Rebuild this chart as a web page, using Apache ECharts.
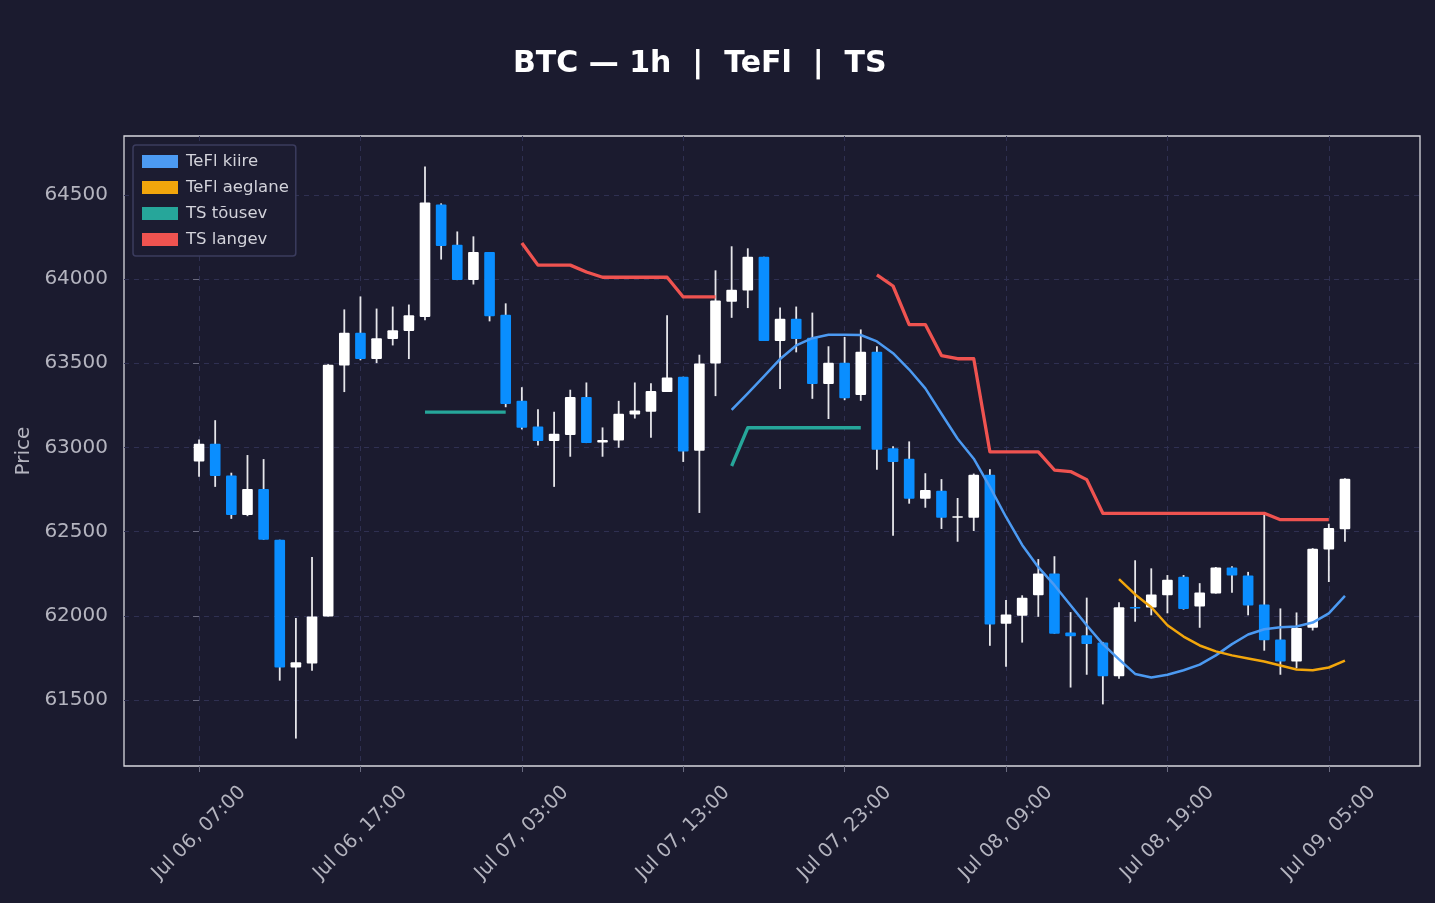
<!DOCTYPE html>
<html>
<head>
<meta charset="utf-8">
<title>BTC 1h TeFl TS</title>
<script src="https://cdn.jsdelivr.net/npm/echarts@6/dist/echarts.min.js"></script>
<style>
  html, body { margin: 0; padding: 0; background: #1b1b2f; }
  #chart { width: 1435px; height: 903px; }
</style>
</head>
<body>
<div id="chart"></div>
<script>
// hourly candles, index 0 = Jul 06 07:00
const opens = [62917, 63022, 62833, 62599, 62754, 62452, 61693, 61717, 61996, 63487,
  63682, 63525, 63644, 63692, 63775, 64443, 64204, 63994, 64161, 63789,
  63277, 63124, 63038, 63074, 63300, 63029, 63041, 63196, 63212, 63329,
  63420, 62981, 63498, 63866, 63932, 64133, 63632, 63765, 63651, 63377,
  63503, 63312, 63568, 62995, 62933, 62695, 62743, 62588, 62583, 62838,
  61953, 62001, 62122, 62251, 61901, 61884, 61841, 61641, 62052, 62049,
  62122, 62232, 62056, 62132, 62287, 62239, 62068, 61860, 61729, 61929,
  62394, 62514];
const closes = [63022, 62831, 62599, 62754, 62452, 61693, 61724, 61996, 63491, 63682,
  63525, 63649, 63696, 63785, 64455, 64197, 63994, 64161, 63780, 63258,
  63117, 63038, 63081, 63300, 63026, 63045, 63200, 63220, 63336, 63415,
  62976, 63498, 63873, 63937, 64133, 63632, 63765, 63644, 63377, 63503,
  63293, 63568, 62986, 62914, 62695, 62747, 62583, 62592, 62838, 61948,
  62008, 62108, 62251, 61894, 61879, 61832, 61641, 62051, 62045, 62127,
  62215, 62041, 62139, 62287, 62239, 62061, 61855, 61729, 61927, 62399,
  62521, 62814];
const highs = [63048, 63162, 62850, 62955, 62931, 62452, 61987, 62349, 63495, 63820,
  63897, 63825, 63837, 63849, 64669, 64450, 64283, 64254, 64161, 63856,
  63358, 63227, 63212, 63343, 63386, 63119, 63277, 63386, 63382, 63785,
  63420, 63551, 64052, 64195, 64183, 64133, 63832, 63837, 63801, 63601,
  63656, 63701, 63601, 63007, 63036, 62847, 62812, 62700, 62845, 62871,
  62094, 62122, 62337, 62354, 62022, 62108, 61845, 62080, 62330, 62282,
  62242, 62242, 62194, 62290, 62294, 62261, 62609, 62044, 62020, 62402,
  62547, 62817];
const lows = [62826, 62766, 62576, 62592, 62452, 61615, 61271, 61674, 61996, 63329,
  63518, 63501, 63606, 63525, 63756, 64116, 63994, 63968, 63749, 63239,
  63107, 63012, 62766, 62945, 63026, 62945, 62998, 63172, 63057, 63329,
  62914, 62611, 63305, 63770, 63828, 63632, 63348, 63565, 63289, 63169,
  63281, 63277, 62867, 62475, 62666, 62642, 62516, 62440, 62504, 61822,
  61698, 61841, 61994, 61894, 61574, 61650, 61474, 61626, 61965, 62003,
  62015, 62037, 61929, 62132, 62137, 62003, 61793, 61650, 61689, 61913,
  62201, 62440];

const _ = null;
// TeFl kiire / aeglane (start later), TS tõusev / langev (gapped)
const teflFast = [_, _, _, _, _, _, _, _, _, _,
  _, _, _, _, _, _, _, _, _, _,
  _, _, _, _, _, _, _, _, _, _,
  _, _, _, 63224, 63322, 63422, 63525, 63606, 63649, 63670,
  63670, 63668, 63630, 63560, 63463, 63351, 63200, 63052, 62933, 62766,
  62587, 62421, 62289, 62182, 62063, 61944, 61832, 61741, 61655, 61634,
  61650, 61677, 61710, 61765, 61832, 61889, 61920, 61932, 61937, 61960,
  62015, 62118];
const teflSlow = [_, _, _, _, _, _, _, _, _, _,
  _, _, _, _, _, _, _, _, _, _,
  _, _, _, _, _, _, _, _, _, _,
  _, _, _, _, _, _, _, _, _, _,
  _, _, _, _, _, _, _, _, _, _,
  _, _, _, _, _, _, _, 62218, 62127, 62051,
  61944, 61877, 61824, 61789, 61765, 61746, 61729, 61705, 61681, 61677,
  61693, 61734];
const tsUp = [_, _, _, _, _, _, _, _, _, _,
  _, _, _, _, 63210, 63210, 63210, 63210, 63210, 63210,
  _, _, _, _, _, _, _, _, _, _,
  _, _, _, 62890, 63117, 63117, 63117, 63117, 63117, 63117,
  63117, 63117, _, _, _, _, _, _, _, _,
  _, _, _, _, _, _, _, _, _, _,
  _, _, _, _, _, _, _, _, _, _,
  _, _];
const tsDown = [_, _, _, _, _, _, _, _, _, _,
  _, _, _, _, _, _, _, _, _, _,
  64214, 64083, 64083, 64083, 64042, 64011, 64011, 64011, 64011, 64011,
  63894, 63894, 63894, _, _, _, _, _, _, _,
  _, _, 64025, 63959, 63730, 63730, 63546, 63527, 63527, 62974,
  62974, 62974, 62974, 62866, 62857, 62809, 62609, 62609, 62609, 62609,
  62609, 62609, 62609, 62609, 62609, 62609, 62609, 62571, 62571, 62571,
  62571, _];

const tickHours = [0, 10, 20, 30, 40, 50, 60, 70];
const tickLabels = ['Jul 06, 07:00', 'Jul 06, 17:00', 'Jul 07, 03:00', 'Jul 07, 13:00',
  'Jul 07, 23:00', 'Jul 08, 09:00', 'Jul 08, 19:00', 'Jul 09, 05:00'];
const priceTicks = [61500, 62000, 62500, 63000, 63500, 64000, 64500];

const chartDom = document.getElementById('chart');
const chart = echarts.init(chartDom);

const candleData = opens.map((o, i) => [i, o, closes[i], lows[i], highs[i]]);
const asPoints = arr => arr.map((v, i) => [i, v]);

const UP = '#ffffff';
const DOWN = '#0a8eff';
const WICK = '#e6e6ea';
const GRID = '#2f3052';
const TEXT = '#b4b4bf';
const TICK = '#6a6b80';

function renderCandle(params, api) {
    const x = api.value(0);
    const o = api.value(1), c = api.value(2), l = api.value(3), h = api.value(4);
    const hi = api.coord([x, h]);
    const lo = api.coord([x, l]);
    const po = api.coord([x, o]);
    const pc = api.coord([x, c]);
    const w = api.size([1, 0])[0] * 0.66;
    const top = Math.min(po[1], pc[1]);
    const height = Math.max(Math.abs(po[1] - pc[1]), 1.5);
    return {
        type: 'group',
        children: [
            {
                type: 'line',
                shape: { x1: hi[0], y1: hi[1], x2: lo[0], y2: lo[1] },
                style: { stroke: WICK, lineWidth: 1.8 }
            },
            {
                type: 'rect',
                shape: { x: po[0] - w / 2, y: top, width: w, height: height, r: 1 },
                style: { fill: c >= o ? UP : DOWN }
            }
        ]
    };
}

function lineSeries(name, arr, color, width) {
    return {
        name: name,
        type: 'line',
        data: asPoints(arr),
        showSymbol: false,
        symbol: 'none',
        connectNulls: false,
        z: 5,
        itemStyle: { color: color },
        lineStyle: { color: color, width: width, join: 'round' }
    };
}

const option = {
    backgroundColor: '#1b1b2f',
    animation: false,
    textStyle: { fontFamily: 'DejaVu Sans' },
    title: {
        text: 'BTC \u2014 1h  |  TeFl  |  TS',
        left: 508,
        top: 44,
        textStyle: { color: '#ffffff', fontSize: 30, fontWeight: 'bold', fontFamily: 'DejaVu Sans' }
    },
    legend: {
        data: ['TeFl kiire', 'TeFl aeglane', 'TS t\u00f5usev', 'TS langev'],
        orient: 'vertical',
        left: 133,
        top: 145,
        icon: 'rect',
        itemWidth: 36,
        itemHeight: 13,
        itemGap: 9,
        padding: [8, 7, 8, 9],
        backgroundColor: '#1c1c31',
        borderColor: '#3b3c5e',
        borderWidth: 1.5,
        borderRadius: 3,
        textStyle: { color: '#d2d2da', fontSize: 16.5, lineHeight: 17, fontFamily: 'DejaVu Sans', padding: [0, 0, 0, 3] }
    },
    grid: {
        left: 124,
        right: 15,
        top: 136,
        bottom: 137,
        show: true,
        borderColor: '#d8d8de',
        borderWidth: 1.3,
        backgroundColor: 'transparent'
    },
    xAxis: {
        type: 'value',
        min: -4.65,
        max: 75.65,
        axisLine: { show: false },
        axisTick: { show: true, customValues: tickHours, length: 6, lineStyle: { color: TICK } },
        splitLine: { show: true, lineStyle: { color: GRID, type: [5, 5], width: 1 } },
        axisLabel: {
            customValues: tickHours,
            rotate: 45,
            align: 'center',
            verticalAlign: 'middle',
            margin: 67,
            color: TEXT,
            fontSize: 19.5,
            fontFamily: 'DejaVu Sans',
            formatter: v => tickLabels[tickHours.indexOf(Math.round(v))] || ''
        }
    },
    yAxis: {
        type: 'value',
        min: 61108,
        max: 64850,
        name: 'Price',
        nameLocation: 'middle',
        nameGap: 87,
        nameTextStyle: { color: TEXT, fontSize: 20, fontFamily: 'DejaVu Sans' },
        axisLine: { show: false },
        axisTick: { show: true, customValues: priceTicks, length: 6, lineStyle: { color: TICK } },
        splitLine: { show: true, lineStyle: { color: GRID, type: [5, 5], width: 1 } },
        axisLabel: {
            customValues: priceTicks,
            color: TEXT,
            fontSize: 20,
            margin: 16,
            fontFamily: 'DejaVu Sans',
            formatter: v => String(v)
        }
    },
    series: [
        {
            name: 'candles',
            type: 'custom',
            renderItem: renderCandle,
            encode: { x: 0, y: [1, 2, 3, 4] },
            data: candleData,
            z: 2
        },
        lineSeries('TeFl kiire', teflFast, '#4c9af2', 2.5),
        lineSeries('TeFl aeglane', teflSlow, '#f2a60c', 2.5),
        lineSeries('TS t\u00f5usev', tsUp, '#26a69a', 3.3),
        lineSeries('TS langev', tsDown, '#ef5350', 3.3)
    ]
};

chart.setOption(option);

window.addEventListener('resize', function () {
    chart.resize();
});
</script>
</body>
</html>
